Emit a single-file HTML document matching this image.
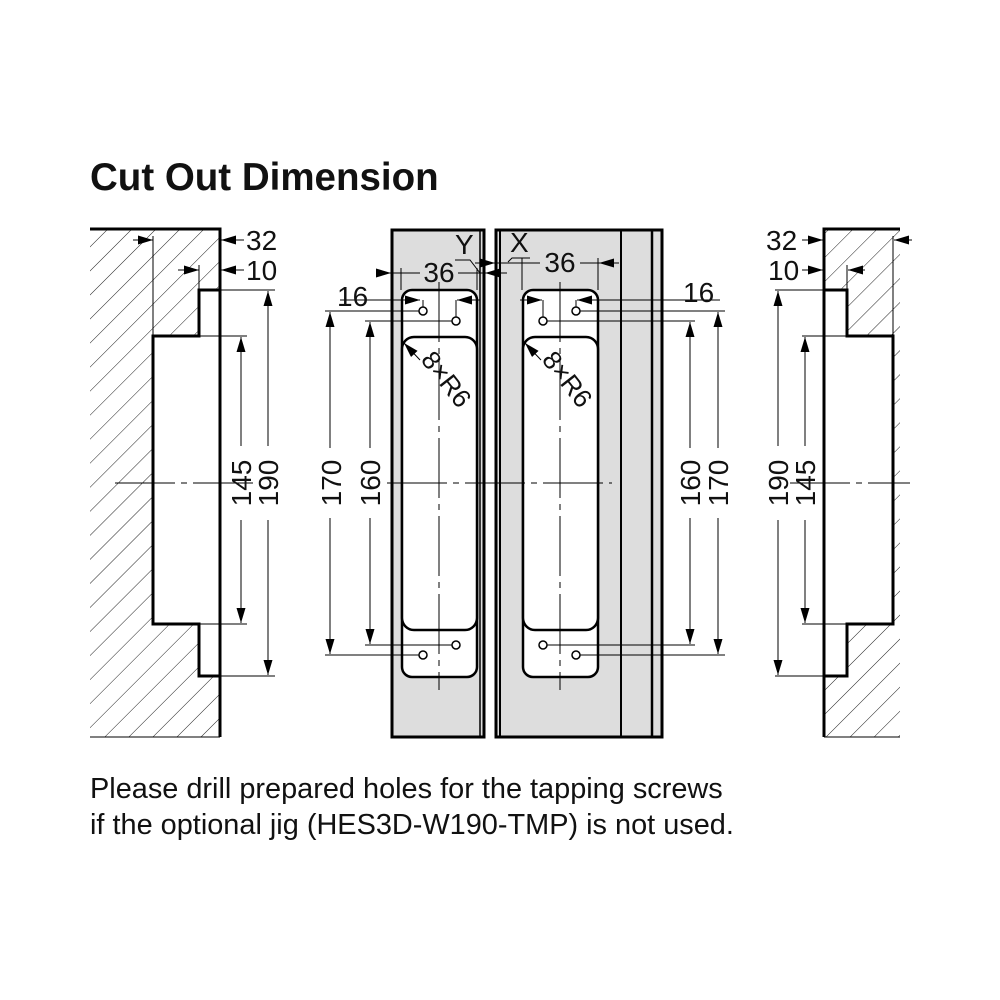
<!DOCTYPE html>
<html><head><meta charset="utf-8"><style>
html,body{margin:0;padding:0;background:#fff;}
svg{display:block;}
text{font-family:"Liberation Sans",Arial,sans-serif;fill:#111;}
</style></head><body>
<svg width="1000" height="1000" viewBox="0 0 1000 1000" xmlns="http://www.w3.org/2000/svg">
<defs>
<pattern id="h" patternUnits="userSpaceOnUse" width="17" height="17" patternTransform="rotate(45)">
<line x1="0" y1="0" x2="0" y2="17" stroke="#222" stroke-width="1"/>
</pattern>
<marker id="a" viewBox="0 0 10 6" refX="10" refY="3" markerWidth="20" markerHeight="9" markerUnits="userSpaceOnUse" orient="auto"><path d="M0,0 L10,3 L0,6 z" fill="#000"/></marker>
</defs>

<text x="90" y="190" font-size="38.5" font-weight="bold">Cut Out Dimension</text>

<!-- LEFT PIECE -->
<polygon points="90,229 220,229 220,290 199,290 199,336 153,336 153,624 199,624 199,676 220,676 220,737 90,737" fill="url(#h)"/>
<polyline points="90,229 220,229 220,737" fill="none" stroke="#000" stroke-width="3"/>
<polyline points="220,290 199,290 199,336 153,336 153,624 199,624 199,676 220,676" fill="none" stroke="#000" stroke-width="3"/>
<line x1="90" y1="737" x2="220" y2="737" stroke="#000" stroke-width="1"/>
<g stroke="#000" stroke-width="1" fill="none">
<line x1="153" y1="236" x2="153" y2="336"/>
<line x1="199" y1="265" x2="199" y2="290"/>
<line x1="133" y1="240" x2="153" y2="240" marker-end="url(#a)"/>
<line x1="244" y1="240" x2="221" y2="240" marker-end="url(#a)"/>
<line x1="178" y1="270" x2="199" y2="270" marker-end="url(#a)"/>
<line x1="244" y1="270" x2="221" y2="270" marker-end="url(#a)"/>
<line x1="220" y1="290" x2="275" y2="290"/><line x1="220" y1="676" x2="275" y2="676"/>
<line x1="199" y1="336" x2="247" y2="336"/><line x1="199" y1="624" x2="247" y2="624"/>
<line x1="268" y1="446" x2="268" y2="291" marker-end="url(#a)"/>
<line x1="268" y1="520" x2="268" y2="675" marker-end="url(#a)"/>
<line x1="241" y1="446" x2="241" y2="337" marker-end="url(#a)"/>
<line x1="241" y1="520" x2="241" y2="623" marker-end="url(#a)"/>
<line x1="115" y1="483" x2="260" y2="483" stroke-dasharray="60,6,6,6"/>
</g>
<text x="246" y="250" font-size="28">32</text>
<text x="246" y="280" font-size="28">10</text>
<text transform="translate(278,483) rotate(-90)" text-anchor="middle" font-size="28">190</text>
<text transform="translate(251,483) rotate(-90)" text-anchor="middle" font-size="28">145</text>

<!-- RIGHT PIECE -->
<polygon points="910,229 824,229 824,290 847,290 847,336 893,336 893,624 847,624 847,676 824,676 824,737 910,737" fill="url(#h)"/>
<rect x="900" y="225" width="20" height="520" fill="#fff"/>
<polyline points="900,229 824,229 824,737" fill="none" stroke="#000" stroke-width="3"/>
<polyline points="824,290 847,290 847,336 893,336 893,624 847,624 847,676 824,676" fill="none" stroke="#000" stroke-width="3"/>
<line x1="824" y1="737" x2="900" y2="737" stroke="#000" stroke-width="1"/>
<g stroke="#000" stroke-width="1" fill="none">
<line x1="893" y1="236" x2="893" y2="336"/>
<line x1="847" y1="265" x2="847" y2="290"/>
<line x1="802" y1="240" x2="823" y2="240" marker-end="url(#a)"/>
<line x1="912" y1="240" x2="894" y2="240" marker-end="url(#a)"/>
<line x1="802" y1="270" x2="823" y2="270" marker-end="url(#a)"/>
<line x1="865" y1="270" x2="848" y2="270" marker-end="url(#a)"/>
<line x1="775" y1="290" x2="824" y2="290"/><line x1="775" y1="676" x2="824" y2="676"/>
<line x1="802" y1="336" x2="847" y2="336"/><line x1="802" y1="624" x2="847" y2="624"/>
<line x1="778" y1="446" x2="778" y2="291" marker-end="url(#a)"/>
<line x1="778" y1="520" x2="778" y2="675" marker-end="url(#a)"/>
<line x1="805" y1="446" x2="805" y2="337" marker-end="url(#a)"/>
<line x1="805" y1="520" x2="805" y2="623" marker-end="url(#a)"/>
<line x1="790" y1="483" x2="910" y2="483" stroke-dasharray="60,6,6,6"/>
</g>
<text x="766" y="250" font-size="28">32</text>
<text x="768" y="280" font-size="28">10</text>
<text transform="translate(788,483) rotate(-90)" text-anchor="middle" font-size="28">190</text>
<text transform="translate(815,483) rotate(-90)" text-anchor="middle" font-size="28">145</text>

<!-- CENTER PANELS -->
<rect x="392" y="230" width="92" height="507" fill="#ddd" stroke="#000" stroke-width="3"/>
<line x1="480" y1="230" x2="480" y2="737" stroke="#000" stroke-width="1.5"/>
<rect x="496" y="230" width="166" height="507" fill="#ddd" stroke="#000" stroke-width="3"/>
<line x1="500" y1="230" x2="500" y2="737" stroke="#000" stroke-width="2"/>
<line x1="621" y1="230" x2="621" y2="737" stroke="#000" stroke-width="2"/>
<line x1="652" y1="230" x2="652" y2="737" stroke="#000" stroke-width="2.5"/>

<g stroke="#000" stroke-width="2.5" fill="#fff">
<rect x="402" y="290" width="75" height="387" rx="10"/>
<rect x="402" y="337" width="75" height="293" rx="12"/>
<rect x="523" y="290" width="75" height="387" rx="10"/>
<rect x="523" y="337" width="75" height="293" rx="12"/>
</g>
<g stroke="#000" stroke-width="1" fill="none">
<line x1="439" y1="282" x2="439" y2="690" stroke-dasharray="60,6,6,6"/>
<line x1="560" y1="282" x2="560" y2="690" stroke-dasharray="60,6,6,6"/>
<line x1="387" y1="483" x2="612" y2="483" stroke-dasharray="60,6,6,6"/>
<line x1="340" y1="300" x2="420" y2="300" marker-end="url(#a)"/>
<line x1="480" y1="300" x2="457" y2="300" marker-end="url(#a)"/>
<line x1="325" y1="311" x2="423" y2="311"/>
<line x1="365" y1="321" x2="456" y2="321"/>
<line x1="325" y1="655" x2="423" y2="655"/>
<line x1="365" y1="645" x2="456" y2="645"/>
<line x1="423" y1="300" x2="423" y2="311"/><line x1="456" y1="300" x2="456" y2="321"/>
<line x1="330" y1="448" x2="330" y2="312" marker-end="url(#a)"/>
<line x1="330" y1="518" x2="330" y2="654" marker-end="url(#a)"/>
<line x1="370" y1="448" x2="370" y2="322" marker-end="url(#a)"/>
<line x1="370" y1="518" x2="370" y2="644" marker-end="url(#a)"/>
<line x1="520" y1="300" x2="542" y2="300" marker-end="url(#a)"/>
<line x1="620" y1="300" x2="577" y2="300" marker-end="url(#a)"/>
<line x1="620" y1="300" x2="720" y2="300"/>
<line x1="576" y1="311" x2="725" y2="311"/>
<line x1="543" y1="321" x2="695" y2="321"/>
<line x1="576" y1="655" x2="725" y2="655"/>
<line x1="543" y1="645" x2="695" y2="645"/>
<line x1="543" y1="300" x2="543" y2="321"/><line x1="576" y1="300" x2="576" y2="311"/>
<line x1="690" y1="448" x2="690" y2="322" marker-end="url(#a)"/>
<line x1="690" y1="518" x2="690" y2="644" marker-end="url(#a)"/>
<line x1="718" y1="448" x2="718" y2="312" marker-end="url(#a)"/>
<line x1="718" y1="518" x2="718" y2="654" marker-end="url(#a)"/>
<line x1="378" y1="273" x2="391" y2="273" marker-end="url(#a)"/>
<line x1="393" y1="273" x2="420" y2="273"/>
<line x1="458" y1="273" x2="500" y2="273"/>
<line x1="507" y1="273" x2="485" y2="273" marker-end="url(#a)"/>
<line x1="401" y1="268" x2="401" y2="290"/>
<line x1="477" y1="268" x2="477" y2="290"/>
<line x1="475" y1="263" x2="495" y2="263" marker-end="url(#a)"/>
<line x1="495" y1="263" x2="540" y2="263"/>
<line x1="580" y1="263" x2="617" y2="263"/>
<line x1="619" y1="263" x2="599" y2="263" marker-end="url(#a)"/>
<line x1="522" y1="258" x2="522" y2="290"/>
<line x1="598" y1="258" x2="598" y2="290"/>
<polyline points="455,260 470,260 480,273"/>
<polyline points="508,262 512,258 530,258"/>
<line x1="420" y1="360" x2="404" y2="343" marker-end="url(#a)"/>
<line x1="541" y1="360" x2="525" y2="343" marker-end="url(#a)"/>
</g>
<g stroke="#000" stroke-width="1.5" fill="#fff">
<circle cx="423" cy="311" r="4"/><circle cx="456" cy="321" r="4"/>
<circle cx="423" cy="655" r="4"/><circle cx="456" cy="645" r="4"/>
<circle cx="543" cy="321" r="4"/><circle cx="576" cy="311" r="4"/>
<circle cx="543" cy="645" r="4"/><circle cx="576" cy="655" r="4"/>
</g>
<text x="439" y="282" font-size="28" text-anchor="middle">36</text>
<text x="560" y="272" font-size="28" text-anchor="middle">36</text>
<text x="337" y="306" font-size="28">16</text>
<text x="683" y="302" font-size="28">16</text>
<text x="455" y="254" font-size="28">Y</text>
<text x="510" y="252" font-size="28">X</text>
<text transform="translate(420,360) rotate(52)" font-size="26">8×R6</text>
<text transform="translate(541,360) rotate(52)" font-size="26">8×R6</text>
<text transform="translate(341,483) rotate(-90)" text-anchor="middle" font-size="28">170</text>
<text transform="translate(380,483) rotate(-90)" text-anchor="middle" font-size="28">160</text>
<text transform="translate(700,483) rotate(-90)" text-anchor="middle" font-size="28">160</text>
<text transform="translate(728,483) rotate(-90)" text-anchor="middle" font-size="28">170</text>

<text x="90" y="798" font-size="28.9">Please drill prepared holes for the tapping screws</text>
<text x="90" y="834" font-size="28.9">if the optional jig (HES3D-W190-TMP) is not used.</text>
</svg>
</body></html>
